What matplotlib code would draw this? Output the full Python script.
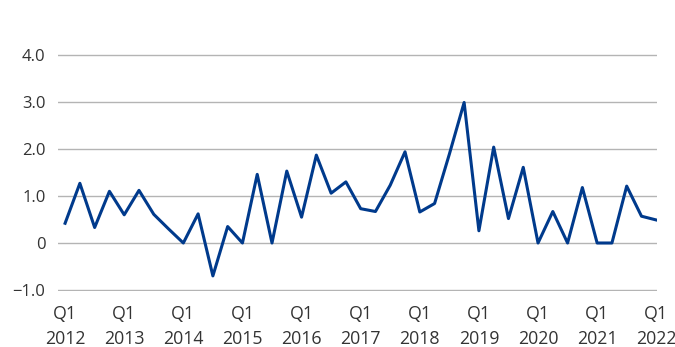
import numpy as np
import matplotlib
matplotlib.use("Agg")
import matplotlib.pyplot as plt

# quarterly values, Q1 2012 .. Q1 2022
values = [0.42, 1.27, 0.33, 1.10, 0.60, 1.12, 0.61, 0.30, 0.0, 0.62,
          -0.70, 0.35, 0.0, 1.46, 0.0, 1.53, 0.55, 1.87, 1.06, 1.30,
          0.73, 0.67, 1.23, 1.94, 0.66, 0.84, 1.89, 2.99, 0.26, 2.04,
          0.52, 1.61, 0.0, 0.67, 0.0, 1.18, 0.0, 0.0, 1.21, 0.57, 0.49]
years = list(range(2012, 2023))
y_ticks = [-1.0, 0.0, 1.0, 2.0, 3.0, 4.0]
y_labels = ["\u22121.0", "0", "1.0", "2.0", "3.0", "4.0"]

plt.rcParams['font.family'] = ['Open Sans', 'DejaVu Sans']

# 47 px per unit, 4.0 at y=55, -1.0 at y=290
fig = plt.figure(figsize=(6.75, 3.47), dpi=100)
top_px, bot_px = 55 - 0.03 * 47, 290 + 0.03 * 47
ax = fig.add_axes([58 / 675, 1 - bot_px / 347, (657 - 58) / 675, (bot_px - top_px) / 347])

x = np.arange(len(values))
ax.plot(x, values, color='#003a8c', lw=2.2, zorder=3)

ax.set_xlim(-0.48, 40.05)
ax.set_ylim(-1.03, 4.03)
ax.set_yticks(y_ticks)
ax.set_yticklabels(y_labels)
ax.set_xticks([4 * i for i in range(len(years))])
ax.set_xticklabels([f"Q1\n{y}" for y in years], linespacing=1.5)

ax.grid(axis='y', color='#b4b4b4', lw=1.0)
ax.set_axisbelow(True)
for s in ax.spines.values():
    s.set_visible(False)
ax.tick_params(axis='both', length=0, colors='#333333')
ax.tick_params(axis='y', pad=9, labelsize=12)
ax.tick_params(axis='x', pad=9.5, labelsize=12.8)

fig.savefig("out.png", dpi=100)
